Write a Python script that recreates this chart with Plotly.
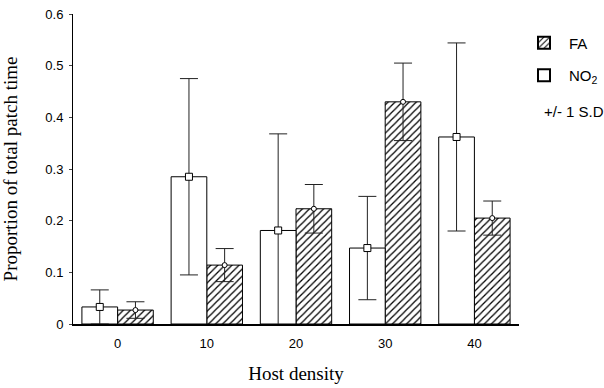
import plotly.graph_objects as go

categories = ["0", "10", "20", "30", "40"]
no2_mean = [0.033, 0.285, 0.181, 0.147, 0.362]
no2_sd = [0.033, 0.19, 0.187, 0.1, 0.182]
fa_mean = [0.027, 0.114, 0.223, 0.430, 0.205]
fa_sd = [0.016, 0.032, 0.047, 0.075, 0.033]

idx = list(range(len(categories)))
x_no2 = [i - 0.2 for i in idx]
x_fa = [i + 0.2 for i in idx]

fig = go.Figure()
fig.add_trace(go.Bar(
    x=x_fa, y=fa_mean, width=0.4, name="FA", legendgroup="fa",
    marker=dict(color="white", line=dict(color="black", width=1),
                pattern=dict(shape="/", fgcolor="black", bgcolor="white", size=5,
                             solidity=0.25, fgopacity=1)),
    error_y=dict(type="data", array=fa_sd, color="#222", thickness=1, width=9),
    legendrank=1,
))
fig.add_trace(go.Bar(
    x=x_no2, y=no2_mean, width=0.4, name="NO<sub>2</sub>", legendgroup="no2",
    marker=dict(color="white", line=dict(color="black", width=1)),
    error_y=dict(type="data", array=no2_sd, color="#222", thickness=1, width=9),
    legendrank=2,
))
fig.add_trace(go.Scatter(
    x=x_no2, y=no2_mean, mode="markers", showlegend=False,
    marker=dict(symbol="square", size=7, color="white", line=dict(color="black", width=1)),
))
fig.add_trace(go.Scatter(
    x=x_fa, y=fa_mean, mode="markers", showlegend=False,
    marker=dict(symbol="circle", size=5, color="white", line=dict(color="black", width=1)),
))

fig.add_annotation(text="+/- 1 S.D", x=1.052, y=0.684, xref="paper", yref="paper",
                   showarrow=False, xanchor="left", yanchor="middle",
                   font=dict(family="Liberation Sans, Arial", size=15, color="black"))

fig.update_layout(
    width=604, height=388,
    margin=dict(l=73, r=85, t=14, b=64, autoexpand=False),
    plot_bgcolor="white", paper_bgcolor="white",
    barmode="overlay",
    showlegend=True,
    legend=dict(x=1.0, y=0.96, xanchor="left", yanchor="top",
                font=dict(family="Liberation Sans, Arial", size=15, color="black"),
                tracegroupgap=10, itemsizing="constant", itemwidth=40),
    xaxis=dict(range=[-0.5, 4.5], tickvals=idx, ticktext=categories,
               showline=True, linecolor="black", linewidth=1.5, ticks="",
               showgrid=False, zeroline=False, automargin=False, ticklabelstandoff=7,
               tickfont=dict(family="Liberation Sans, Arial", size=13, color="black"),
               title=dict(text="Host density", standoff=16,
                          font=dict(family="Liberation Serif, Times New Roman", size=19, color="black"))),
    yaxis=dict(range=[0, 0.6], dtick=0.1, tickformat="~g",
               showline=True, linecolor="black", linewidth=1, ticks="outside", ticklen=3,
               showgrid=False, zeroline=False, automargin=False, ticklabelstandoff=3,
               tickfont=dict(family="Liberation Sans, Arial", size=13, color="black"),
               title=dict(text="Proportion of total patch time", standoff=24,
                          font=dict(family="Liberation Serif, Times New Roman", size=19, color="black"))),
)

fig.write_html("out.html", config={"displayModeBar": False},
               post_script="document.body.style.margin='0';")
